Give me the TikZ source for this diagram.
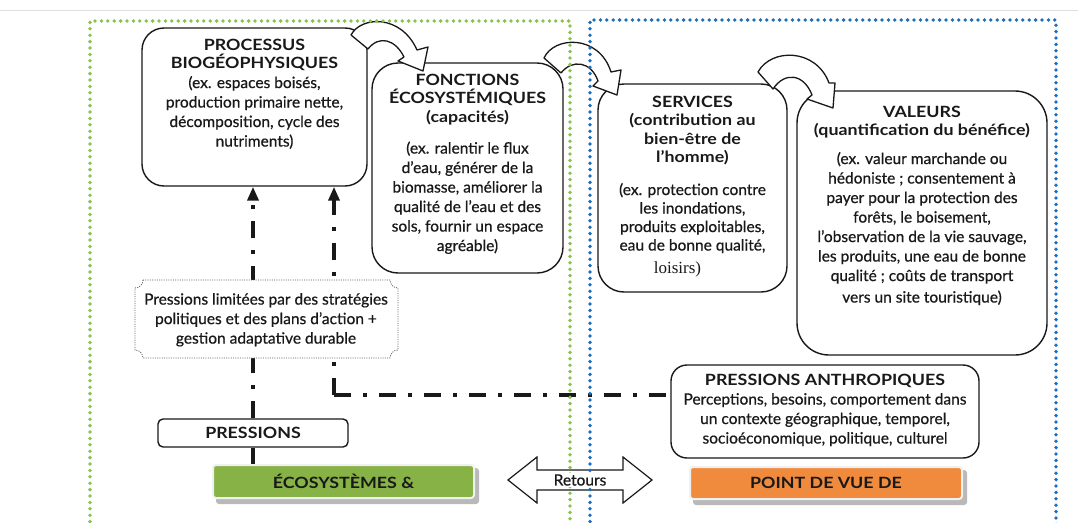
\documentclass[tikz,border=0pt]{standalone}
\usepackage{fontspec}
\setmainfont{Lato}[FakeBold=0.6]
\newfontfamily\titlef{Lato}[FakeStretch=1.15]
\newfontfamily\loisf{Liberation Serif}
\usetikzlibrary{calc,arrows.meta}
\definecolor{dotgreen}{RGB}{140,194,76}
\definecolor{dotblue}{RGB}{30,110,190}
\definecolor{ecogreen}{RGB}{135,178,70}
\definecolor{pvdorange}{RGB}{240,138,60}
\definecolor{ink}{RGB}{25,25,25}
\newcommand\bodyf{\fontsize{15.5}{19.5}\selectfont}
\newcommand\ttlf{\titlef\bfseries\fontsize{15.5}{18.5}\selectfont}
\tikzset{
  boxr/.style={draw=ink, line width=1.4pt, fill=white},
  txt/.style={inner sep=0pt, align=center, text=ink, font=\bodyf},
  zone/.style={line width=3.8pt, dash pattern=on 0pt off 6.4pt, line cap=round},
  dashdot/.style={ink, line width=3.6pt, dash pattern=on 17pt off 12pt on 4pt off 12pt},
  uparrow/.style={dashdot, -{Triangle[length=14pt,width=11pt]}},
  blockarrow/.style={draw=ink, line width=1.3pt, fill=white, line join=round},
  colbox/.style={draw=white!88!gray, line width=2pt, rounded corners=3pt, inner sep=0pt},
  shadowbox/.style={fill=gray!55, rounded corners=3pt},
}
\begin{document}
\begin{tikzpicture}[x=1pt,y=-1pt]
\useasboundingbox (0,0) rectangle (1078,522);
\fill[white] (0,0) rectangle (1078,522);
\draw[gray!25, line width=1pt] (0,10) -- (1078,10);

% main boxes
\node[boxr, rounded corners=22pt, minimum width=225pt, minimum height=158pt] (proc) at (254.5,107) {};
\node[boxr, rounded corners=26pt, minimum width=191pt, minimum height=210pt] (fonc) at (467.5,168) {};
\node[boxr, rounded corners=26pt, minimum width=189pt, minimum height=208pt] (serv) at (692.5,188) {};
\node[boxr, rounded corners=32pt, minimum width=250pt, minimum height=264pt] (val) at (922,223) {};
\node[boxr, rounded corners=16pt, minimum width=308pt, minimum height=93pt] (pa) at (825,411.5) {};
\node[boxr, rounded corners=5pt, minimum width=190pt, minimum height=28pt] (press) at (253,433) {};

% dash-dot connectors
\coordinate (corner) at (334,395);
\draw[uparrow] (press.north) -- (press.north |- proc.south);
\draw[dashdot] (press.south) -- (press.south |- 0,465);
\draw[uparrow] (corner) -- (corner |- proc.south);
\draw[dashdot] (corner) -- (corner -| pa.west);

% pressions limitees box
\draw[gray!70!black, fill=white, line width=0.8pt, dash pattern=on 1pt off 1.3pt]
  (143,280) -- (390,280) arc[start angle=180, end angle=90, radius=8]
  -- (398,350) arc[start angle=270, end angle=180, radius=8]
  -- (143,358) arc[start angle=0, end angle=-90, radius=8]
  -- (135,288) arc[start angle=90, end angle=0, radius=8] -- cycle;
\node[txt, anchor=north] (plimt) at (266,293) {Pressions limitées par des stratégies\\ politiques et des plans d’action +\\ gestion adaptative durable};

% coloured bottom boxes
\fill[shadowbox] (216,468) rectangle (479,504);
\node[colbox, fill=ecogreen, minimum width=261pt, minimum height=33pt] (eco) at (343.5,481.5) {};
\node[txt, font=\ttlf] (ecot) at (eco) {ÉCOSYSTÈMES \&};
\fill[shadowbox] (693,470) rectangle (967,505);
\node[colbox, fill=pvdorange, minimum width=272pt, minimum height=32pt] (pvd) at (826,483) {};
\node[txt, font=\ttlf] (pvdt) at (pvd) {POINT DE VUE DE};

% curved block arrows
\draw[blockarrow] (351,35) .. controls (361,16) and (401,14) .. (417,50)
  -- (428,47) -- (423,71) -- (398,61) -- (404,57)
  .. controls (395,39) and (379,35) .. (368,49) -- cycle;
\draw[blockarrow] (544,58) .. controls (554,36) and (599,34) .. (611,72)
  -- (621,70) -- (617,95) -- (593,86) -- (598,81)
  .. controls (591,61) and (572,59) .. (561,73) -- cycle;
\draw[blockarrow] (758,72) .. controls (771,48) and (816,48) .. (829,83)
  -- (835,83) -- (833,108) -- (807,99) -- (812,95)
  .. controls (804,74) and (785,71) .. (773,89) -- cycle;

% texts
\node[txt, anchor=north] (proct) at (254.5,38.5) {{\ttlf PROCESSUS}\\[-1pt] {\ttlf BIOGÉOPHYSIQUES}\\ (ex. espaces boisés,\\ production primaire nette,\\ décomposition, cycle des\\ nutriments)};
\node[txt, anchor=north] (fonct) at (467.5,73.5) {{\ttlf FONCTIONS}\\[-1pt] {\ttlf ÉCOSYSTÉMIQUES}\\[-1pt] {\ttlf (capacités)}\\[12pt] (ex. ralentir le flux\\ d’eau, générer de la\\ biomasse, améliorer la\\ qualité de l’eau et des\\ sols, fournir un espace\\ agréable)};
\node[txt, anchor=north] (servt) at (692.5,95.5) {{\ttlf SERVICES}\\[-1pt] {\ttlf (contribution au}\\[-1pt] {\ttlf bien-être de}\\[-1pt] {\ttlf l’homme)}\\[13pt] (ex. protection contre\\[-1pt] les inondations,\\[-1pt] produits exploitables,\\[-1pt] eau de bonne qualité,\\[3pt] \hspace*{-30pt}{\loisf\fontsize{17}{19}\selectfont loisirs)}};
\node[txt, anchor=north] (valt) at (922,105.5) {{\ttlf VALEURS}\\[-1pt] {\ttlf (quantification du bénéfice)}\\[9pt] (ex. valeur marchande ou\\ hédoniste ; consentement à\\ payer pour la protection des\\ forêts, le boisement,\\ l’observation de la vie sauvage,\\ les produits, une eau de bonne\\ qualité ; coûts de transport\\[2pt] vers un site touristique)};
\node[txt, anchor=north] (pat) at (825,373.5) {{\ttlf PRESSIONS ANTHROPIQUES}\\ Perceptions, besoins, comportement dans\\ un contexte géographique, temporel,\\ socioéconomique, politique, culturel};
\node[txt, font=\ttlf] (presst) at (press) {PRESSIONS};

% retours double arrow
\draw[ink, line width=1.2pt, line join=miter]
  (508,480) -- (537,457) -- (537,470) -- (623,470) -- (623,457) -- (652,480)
  -- (623,503) -- (623,490) -- (537,490) -- (537,503) -- cycle;

% dotted zones
\draw[zone, dotgreen] (90,528) -- (90,21) -- (570,21) -- (570,528);
\draw[zone, dotblue] (590,528) -- (590,20) -- (1056,20) -- (1056,528);
\node[txt, fill=white, inner sep=1pt] (ret) at (580,480) {Retours};
\end{tikzpicture}
\end{document}
